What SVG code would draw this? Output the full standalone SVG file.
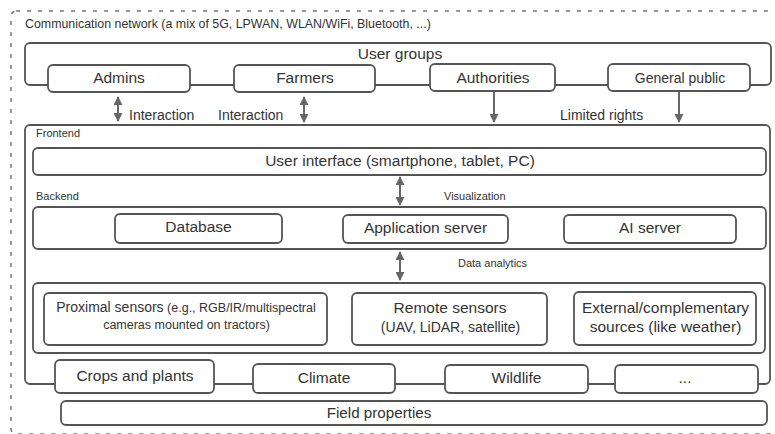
<svg xmlns="http://www.w3.org/2000/svg" width="775" height="434" viewBox="0 0 775 434">
<style>
text{font-family:"Liberation Sans",Arial,sans-serif;fill:#333}
.box{fill:#fff;stroke:#555;stroke-width:1.8}
.cont{fill:none;stroke:#555;stroke-width:1.8}
.big{font-size:15.5px}
.mid{font-size:14px}
.sm{font-size:11px}
.c{text-anchor:middle}
.conn{stroke:#666;stroke-width:2;fill:none}
</style>
<defs>
<marker id="ah" viewBox="0 0 10 10" refX="9" refY="5" markerWidth="4.5" markerHeight="4.5" orient="auto-start-reverse" markerUnits="strokeWidth">
<path d="M0,0 L10,5 L0,10 Z" fill="#666"/>
</marker>
</defs>
<rect x="0" y="0" width="775" height="434" fill="#fff"/>
<g id="network">
<rect x="11" y="11" width="800" height="423" rx="5" fill="none" stroke="#777" stroke-width="1.5" stroke-dasharray="4 7"/>
<text x="25" y="28" style="font-size:12.4px">Communication network (a mix of 5G, LPWAN, WLAN/WiFi, Bluetooth, ...)</text>
</g>
<g id="user-groups">
<rect class="cont" x="25" y="43" width="746" height="42" rx="5"/>
<text class="big c" x="400" y="59">User groups</text>
</g>
<g id="frontend">
<rect class="cont" x="25" y="125" width="745" height="259" rx="5"/>
<text class="sm" x="36" y="136.5">Frontend</text>
<text class="sm" x="36" y="200">Backend</text>
</g>
<g id="connectors">
<line class="conn" x1="118" y1="97" x2="118" y2="121" marker-start="url(#ah)" marker-end="url(#ah)"/>
<line class="conn" x1="304" y1="97" x2="304" y2="122" marker-start="url(#ah)" marker-end="url(#ah)"/>
<line class="conn" x1="494" y1="92" x2="494" y2="122" marker-end="url(#ah)"/>
<line class="conn" x1="679" y1="92" x2="679" y2="122" marker-end="url(#ah)"/>
<line class="conn" x1="400" y1="177" x2="400" y2="205" marker-start="url(#ah)" marker-end="url(#ah)"/>
<line class="conn" x1="400" y1="252" x2="400" y2="280" marker-start="url(#ah)" marker-end="url(#ah)"/>
<text class="mid" x="129" y="120">Interaction</text>
<text class="mid" x="218" y="120">Interaction</text>
<text class="mid" x="560" y="120">Limited rights</text>
<text class="sm" x="444" y="200">Visualization</text>
<text class="sm" x="458" y="267">Data analytics</text>
</g>
<g id="admins">
<rect class="box" x="48" y="65" width="142" height="27" rx="5"/>
<text class="big c" x="119" y="82.5">Admins</text>
</g>
<g id="farmers">
<rect class="box" x="234" y="65" width="141" height="27" rx="5"/>
<text class="big c" x="305" y="82.5">Farmers</text>
</g>
<g id="authorities">
<rect class="box" x="430" y="64" width="125" height="27" rx="5"/>
<text class="big c" x="493" y="82.5">Authorities</text>
</g>
<g id="general-public">
<rect class="box" x="608" y="64" width="142" height="27" rx="5"/>
<text class="mid c" x="680" y="82.5">General public</text>
</g>
<g id="user-interface">
<rect class="box" x="33" y="148" width="733" height="27" rx="5"/>
<text class="big c" x="400" y="166">User interface (smartphone, tablet, PC)</text>
</g>
<g id="backend">
<rect class="box" x="33" y="207" width="733" height="42" rx="5"/>
</g>
<g id="database">
<rect class="box" x="115" y="214" width="167" height="29" rx="5"/>
<text class="big c" x="198.5" y="232">Database</text>
</g>
<g id="application-server">
<rect class="box" x="343" y="215" width="165" height="28" rx="5"/>
<text class="big c" x="425.5" y="233">Application server</text>
</g>
<g id="ai-server">
<rect class="box" x="564" y="215" width="172" height="28" rx="5"/>
<text class="big c" x="650" y="233">AI server</text>
</g>
<g id="sensors">
<rect class="box" x="33" y="283" width="732" height="70" rx="5"/>
</g>
<g id="proximal-sensors">
<rect class="box" x="44" y="293" width="283" height="52" rx="5"/>
<text class="c" x="186" y="312"><tspan style="font-size:14px">Proximal sensors</tspan><tspan style="font-size:12.5px"> (e.g., RGB/IR/multispectral</tspan></text>
<text class="c" x="186.5" y="328.5" style="font-size:12.5px">cameras mounted on tractors)</text>
</g>
<g id="remote-sensors">
<rect class="box" x="352" y="293" width="195" height="52" rx="5"/>
<text class="big c" x="450" y="313">Remote sensors</text>
<text class="mid c" x="450.5" y="332">(UAV, LiDAR, satellite)</text>
</g>
<g id="external-sources">
<rect class="box" x="574" y="292" width="182" height="53" rx="5"/>
<text class="big c" x="665.5" y="313">External/complementary</text>
<text class="big c" x="665.5" y="332">sources (like weather)</text>
</g>
<g id="crops-and-plants">
<rect class="box" x="55" y="360" width="159" height="33" rx="5"/>
<text class="big c" x="135" y="381">Crops and plants</text>
</g>
<g id="climate">
<rect class="box" x="253" y="364" width="142" height="29" rx="5"/>
<text class="big c" x="324" y="383">Climate</text>
</g>
<g id="wildlife">
<rect class="box" x="445" y="365" width="143" height="28" rx="5"/>
<text class="big c" x="516.5" y="383">Wildlife</text>
</g>
<g id="more">
<rect class="box" x="615" y="365" width="143" height="28" rx="5"/>
<text class="big c" x="685" y="383">...</text>
</g>
<g id="field-properties">
<rect class="box" x="61" y="401" width="706" height="24" rx="5"/>
<text class="c" x="379" y="418" style="font-size:15.2px">Field properties</text>
</g>
</svg>
